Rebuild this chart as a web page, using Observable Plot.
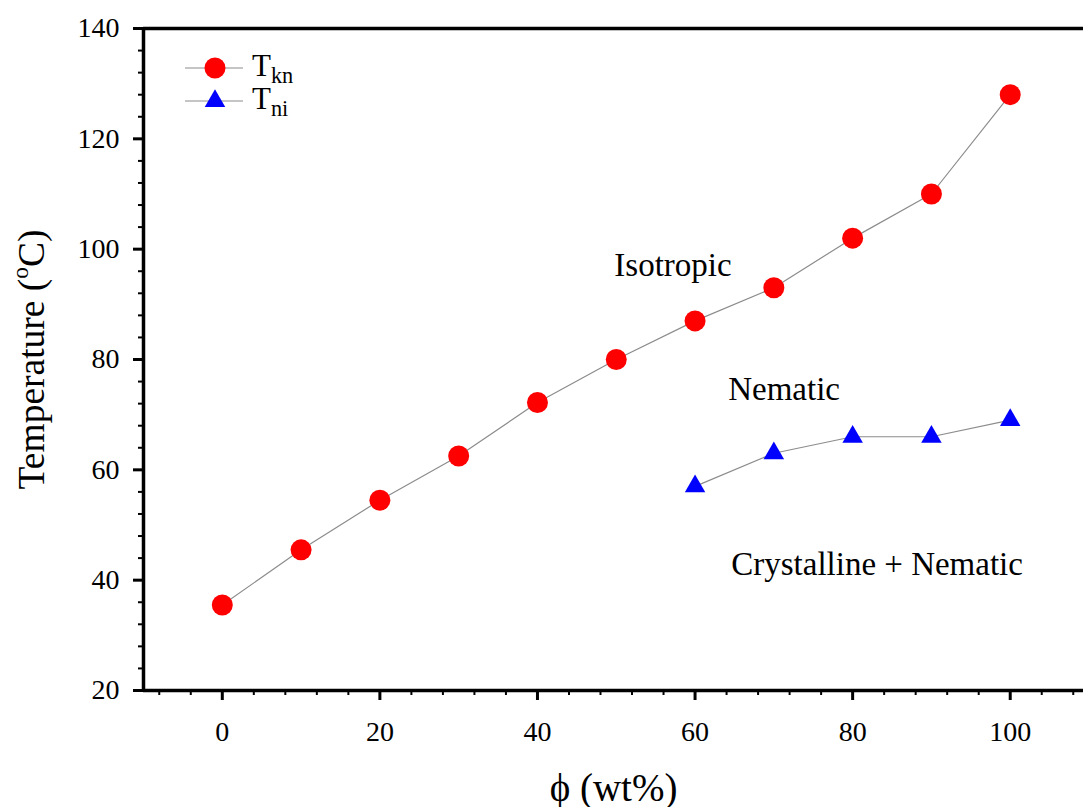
<!DOCTYPE html>
<html><head><meta charset="utf-8">
<script src="https://cdn.jsdelivr.net/npm/d3@7"></script>
<script src="https://cdn.jsdelivr.net/npm/@observablehq/plot@0.6"></script>
<style>
body{margin:0;background:#fff;}
#chart{position:relative;width:1083px;height:807px;overflow:hidden;}
</style>
</head><body><div id="chart"></div>
<script>
// ---- data ----
const phiKn = [0, 10, 20, 30, 40, 50, 60, 70, 80, 90, 100];
const tKn   = [35.5, 45.5, 54.5, 62.5, 72.2, 80, 87, 93, 102, 110, 128];
const phiNi = [60, 70, 80, 90, 100];
const tNi   = [57, 63, 66, 66, 69];
const xTicks = [0, 20, 40, 60, 80, 100];
const yTicks = [20, 40, 60, 80, 100, 120, 140];
const regionLabels = ["Isotropic", "Nematic", "Crystalline + Nematic"];
const regionX = [57.2, 71.3, 83.1];
const regionY = [97, 74.5, 42.8];
const seriesNames = ["T_{kn}", "T_{ni}"];
const xLabel = "ϕ (wt%)";
const yLabel = "Temperature (^{o}C)";

const xMinor = d3.range(-8, 110, 4).filter(v => v % 20 !== 0);
const yMinor = d3.range(24, 140, 4).filter(v => v % 20 !== 0);

const kn = phiKn.map((p, i) => ({phi: p, t: tKn[i]}));
const ni = phiNi.map((p, i) => ({phi: p, t: tNi[i]}));
const regions = regionLabels.map((l, i) => ({label: l, x: regionX[i], y: regionY[i]}));

const serif = "'Liberation Serif', 'Times New Roman', serif";
const RED = "#ff0000", BLUE = "#0000ff", GREY = "#8c8c8c";

const plot = Plot.plot({
  width: 1083, height: 807,
  marginLeft: 143, marginTop: 28, marginBottom: 117, marginRight: 0,
  style: {fontFamily: serif, background: "white", color: "black"},
  x: {domain: [-10, 109.3]},
  y: {domain: [20, 140]},
  marks: [
    Plot.axisX(xMinor, {tickSize: 5, strokeWidth: 2, text: null, label: null}),
    Plot.axisX(xTicks, {tickSize: 10, strokeWidth: 3, tickPadding: 21, fontSize: 28, label: null}),
    Plot.axisY(yMinor, {tickSize: 5, strokeWidth: 2, text: null, label: null}),
    Plot.axisY(yTicks, {tickSize: 10, strokeWidth: 3, tickPadding: 14, fontSize: 28, label: null}),
    Plot.ruleY([20], {strokeWidth: 3.5}),
    Plot.ruleY([140], {strokeWidth: 3.5}),
    Plot.ruleX([-10], {strokeWidth: 3.5}),
    Plot.line(kn, {x: "phi", y: "t", stroke: GREY, strokeWidth: 1.2}),
    Plot.line(ni, {x: "phi", y: "t", stroke: GREY, strokeWidth: 1.2}),
    Plot.dot(kn, {x: "phi", y: "t", r: 10.5, fill: RED, stroke: "none"}),
    Plot.dot(ni, {x: "phi", y: "t", r: 7.6, symbol: "triangle", fill: BLUE, stroke: "none"}),
    Plot.text(regions, {x: "x", y: "y", text: "label", fontSize: 33, fill: "black"}),
    Plot.text([xLabel], {text: d => d, frameAnchor: "bottom", dy: 110, fontSize: 39, fill: "black"}),
    Plot.text([yLabel], {text: d => d, frameAnchor: "left", textAnchor: "middle", dx: -112, rotate: -90, fontSize: 37.5, fill: "black"})
  ]
});

document.getElementById("chart").appendChild(plot);
const svg = d3.select(plot);

// legend inside the frame (top-left)
const leg = svg.append("g").attr("transform", "translate(185,68)");
const rowGap = 33;
seriesNames.forEach((name, i) => {
  const g = leg.append("g").attr("transform", `translate(0,${i * rowGap})`);
  g.append("line").attr("x1", 0).attr("x2", 58).attr("y1", 0).attr("y2", 0)
    .attr("stroke", GREY).attr("stroke-width", 1.2);
  if (i === 0) {
    g.append("circle").attr("cx", 30).attr("cy", 0).attr("r", 10.5).attr("fill", RED);
  } else {
    g.append("path").attr("transform", "translate(30,0)")
      .attr("d", d3.symbol(d3.symbolTriangle, Math.PI * 7.6 * 7.6)()).attr("fill", BLUE);
  }
  g.append("text").attr("x", 67).attr("y", 8).attr("font-size", 31).attr("text-anchor", "start")
    .attr("font-family", serif).attr("fill", "black").text(name);
});

// rich text: ^{..} superscript, _{..} subscript
svg.selectAll("text").each(function() {
  const el = d3.select(this);
  const s = this.textContent;
  if (!/[\^_]\{/.test(s)) return;
  const fs = parseFloat(getComputedStyle(this).fontSize) || 30;
  el.text(null);
  const parts = s.split(/([\^_]\{[^}]*\})/).filter(p => p.length);
  let shift = 0;
  parts.forEach(p => {
    const m = p.match(/^([\^_])\{([^}]*)\}$/);
    const t = el.append("tspan");
    if (m) {
      const sup = m[1] === "^";
      const target = sup ? -0.42 * fs : 0.22 * fs;
      t.attr("dy", target - shift).attr("font-size", (sup ? 0.62 : 0.72) * fs).text(m[2]);
      shift = target;
    } else {
      t.attr("dy", -shift).text(p);
      shift = 0;
    }
  });
});
</script>
</body></html>
